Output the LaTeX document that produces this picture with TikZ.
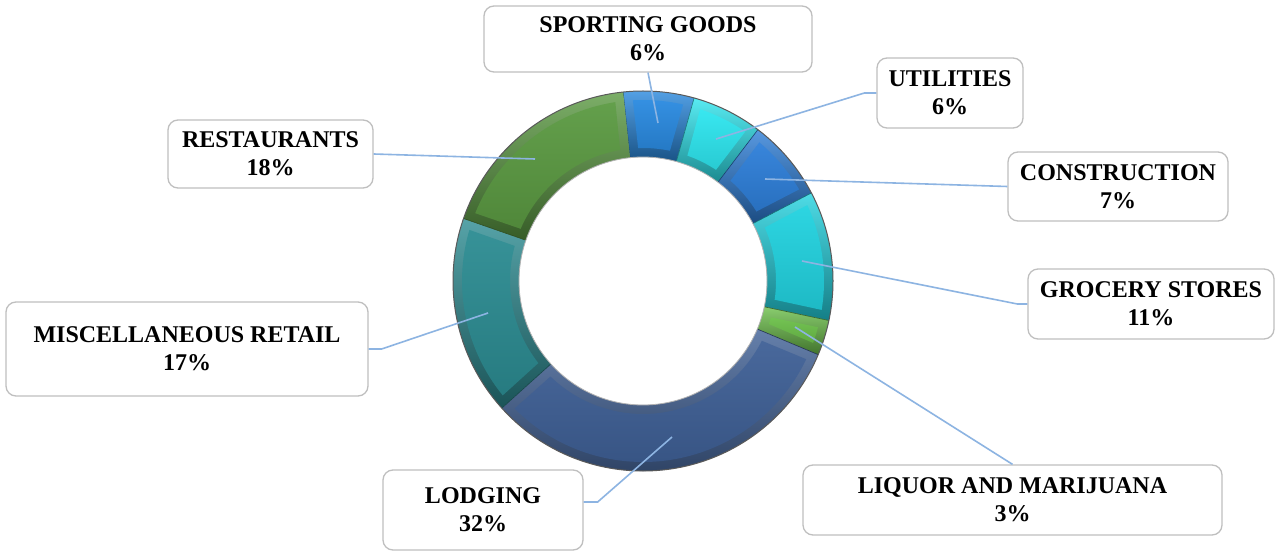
\documentclass[tikz,border=0pt]{standalone}
\usepackage{fontspec}
\setmainfont{Liberation Serif}
\definecolor{cSG}{HTML}{2A8AE0}
\definecolor{cUT}{HTML}{2EE6EF}
\definecolor{cCO}{HTML}{2E7FD9}
\definecolor{cGR}{HTML}{22D3E0}
\definecolor{cLQ}{HTML}{6CC04A}
\definecolor{cLO}{HTML}{3F6096}
\definecolor{cMI}{HTML}{2C8C92}
\definecolor{cRE}{HTML}{5B9A42}
\definecolor{leader}{HTML}{8DB4E2}
\def\Ro{190pt}\def\Ri{124pt}\def\Rfo{181pt}\def\Rfi{133pt}
% #1 start angle (larger), #2 end angle (smaller), #3 colour
\newcommand\donutseg[3]{%
  \shade[top color=#3!80!white, bottom color=#3!60!black]
    (#1:\Ro) arc[start angle=#1, end angle=#2, radius=\Ro]
    -- (#2:\Ri) arc[start angle=#2, end angle=#1, radius=\Ri] -- cycle;
  \shade[top color=#3!95!white, bottom color=#3!88!black]
    ({#1-2.8}:\Rfo) arc[start angle=#1-2.8, end angle=#2+2.8, radius=\Rfo]
    -- ({#2+3.9}:\Rfi) arc[start angle=#2+3.9, end angle=#1-3.9, radius=\Rfi] -- cycle;
  \draw[#3!50!black, line width=0.6pt]
    (#1:\Ro) -- (#1:\Ri);
}
\tikzset{
  lbl/.style={draw=black!25, line width=1.3pt, rounded corners=10pt, fill=white,
    align=center, inner sep=0pt, font=\fontsize{24}{28}\selectfont\bfseries},
  ldr/.style={draw=leader, line width=1.6pt}
}
\begin{document}
\begin{tikzpicture}[x=1pt,y=1pt]
\useasboundingbox (0,0) rectangle (1279,552);
\fill[white] (0,0) rectangle (1279,552);
\begin{scope}[shift={(643,271)}]
  \donutseg{96}{74.4}{cSG}
  \donutseg{74.4}{52.8}{cUT}
  \donutseg{52.8}{27.6}{cCO}
  \donutseg{27.6}{-12}{cGR}
  \donutseg{-12}{-22.8}{cLQ}
  \donutseg{-22.8}{-138}{cLO}
  \donutseg{-138}{-199.2}{cMI}
  \donutseg{160.8}{96}{cRE}
  \draw[black!65, line width=1pt] (0,0) circle[radius=\Ro];
  \draw[black!30, line width=0.8pt] (0,0) circle[radius=\Ri];
\end{scope}

% anchor points inside the segments
\coordinate (pSG) at (658,429);
\coordinate (pUT) at (716,413);
\coordinate (pCO) at (765,373);
\coordinate (pGR) at (802,291);
\coordinate (pLQ) at (795,225);
\coordinate (pLO) at (672,115);
\coordinate (pMI) at (488,239);
\coordinate (pRE) at (535,393);

% label boxes
\node[lbl, minimum width=328pt, minimum height=66pt] (sg) at (648,513) {SPORTING GOODS\\6\%};
\node[lbl, minimum width=146pt, minimum height=70pt] (ut) at (950,459) {UTILITIES\\6\%};
\node[lbl, minimum width=220pt, minimum height=69pt] (co) at (1118,365.5) {CONSTRUCTION\\7\%};
\node[lbl, minimum width=246pt, minimum height=70pt] (gr) at (1151,248) {GROCERY STORES\\11\%};
\node[lbl, minimum width=419pt, minimum height=70pt] (lq) at (1012.5,52) {LIQUOR AND MARIJUANA\\3\%};
\node[lbl, minimum width=200pt, minimum height=80pt] (lo) at (483,42) {LODGING\\32\%};
\node[lbl, minimum width=362pt, minimum height=94pt] (mi) at (187,203) {MISCELLANEOUS RETAIL\\17\%};
\node[lbl, minimum width=205pt, minimum height=68pt] (re) at (270.5,398) {RESTAURANTS\\18\%};

% leader lines
\draw[ldr] (pSG) -- (sg.south);
\draw[ldr] (pUT) -- ([xshift=-12pt]ut.west) -- (ut.west);
\draw[ldr] (pCO) -- (co.west);
\draw[ldr] (pGR) -- ([xshift=-10pt]gr.west) -- (gr.west);
\draw[ldr] (pLQ) -- (lq.north);
\draw[ldr] (pLO) -- ([xshift=14pt,yshift=8pt]lo.east) -- ([yshift=8pt]lo.east);
\draw[ldr] (pMI) -- ([xshift=13pt]mi.east) -- (mi.east);
\draw[ldr] (pRE) -- (re.east);
\end{tikzpicture}
\end{document}
